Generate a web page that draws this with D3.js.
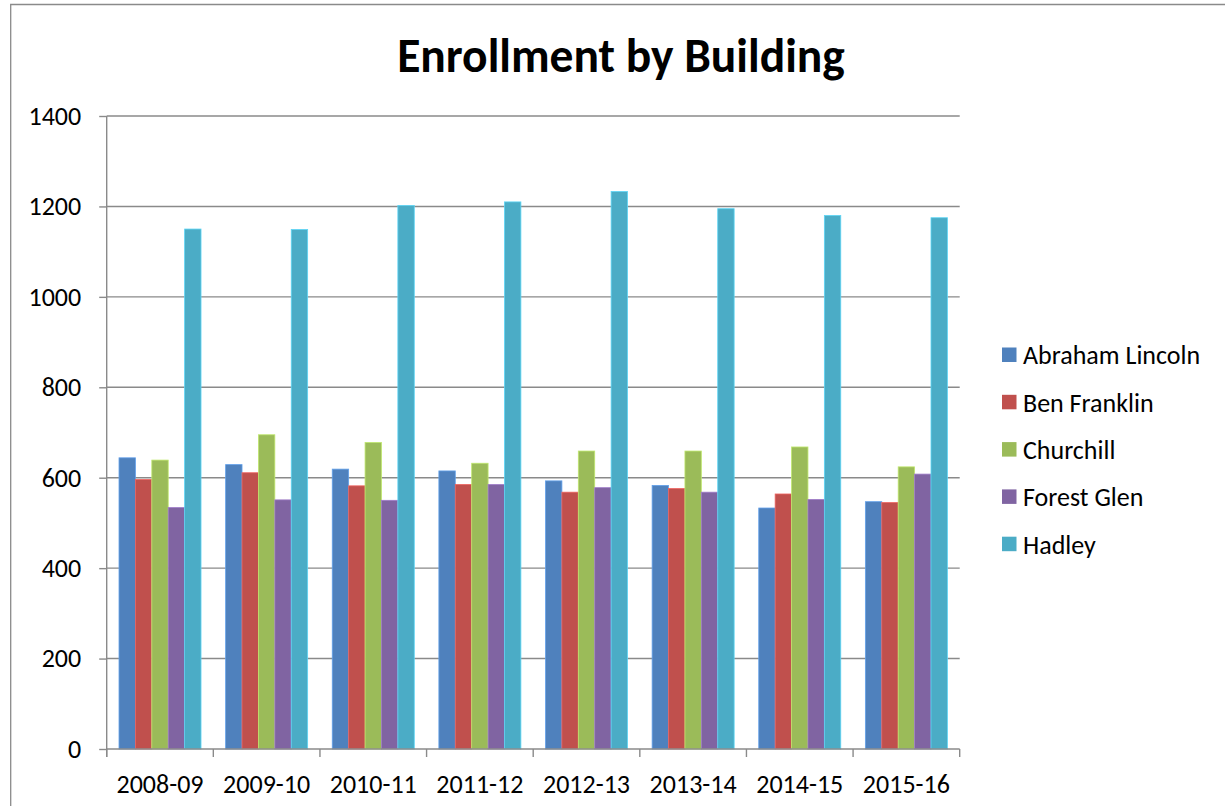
<!DOCTYPE html>
<html>
<head>
<meta charset="utf-8">
<script src="https://cdn.jsdelivr.net/npm/d3@7/dist/d3.min.js"></script>
<style>
  html, body { margin: 0; padding: 0; background: #fff; }
  svg { display: block; }
  text { font-family: Calibri, Carlito, Lato, sans-serif; fill: #000; }
</style>
</head>
<body>
<svg id="chart" width="1225" height="809"></svg>
<script>
// School years on the x axis
const years = ["2008-09", "2009-10", "2010-11", "2011-12", "2012-13", "2013-14", "2014-15", "2015-16"];
// Buildings (one bar series each)
const buildings = ["Abraham Lincoln", "Ben Franklin", "Churchill", "Forest Glen", "Hadley"];
// Enrollment per building, one value per school year
const abrahamLincoln = [644, 629, 619, 615, 593, 583, 533, 547];
const benFranklin    = [596, 611, 582, 585, 568, 576, 564, 545];
const churchill      = [639, 695, 678, 632, 659, 659, 668, 624];
const forestGlen     = [534, 551, 550, 585, 578, 568, 552, 608];
const hadley         = [1150, 1149, 1202, 1210, 1233, 1195, 1180, 1175];
// Value-axis ticks
const yTicks = [0, 200, 400, 600, 800, 1000, 1200, 1400];
const colors = ["#4F81BD", "#C0504D", "#9BBB59", "#8064A2", "#4BACC6"];

const series = [abrahamLincoln, benFranklin, churchill, forestGlen, hadley];

const svg = d3.select("#chart");
const plot = { left: 106.7, right: 959.7, top: 116, bottom: 749 };
const fontFam = "Calibri, Carlito, Lato, sans-serif";
const labelSize = 26;

// Outer chart frame (top and left edges visible)
svg.append("path")
  .attr("d", `M10.7,806 V4.5 H1225`)
  .attr("fill", "none")
  .attr("stroke", "#8a8a8a")
  .attr("stroke-width", 1.3);

const x0 = d3.scaleBand().domain(years).range([plot.left, plot.right]);
// Gap width 150% of one bar: 5 bars + 1.5 bar widths of gap per category
const groupW = x0.bandwidth() * 5 / 6.5;
const groupOff = (x0.bandwidth() - groupW) / 2;
const x1 = d3.scaleBand().domain(buildings).range([groupOff, groupOff + groupW]);

const y = d3.scaleLinear().domain([0, 1400]).range([plot.bottom, plot.top]);

// Horizontal gridlines
svg.append("g")
  .selectAll("line")
  .data(yTicks.filter(d => d > 0))
  .join("line")
  .attr("x1", plot.left).attr("x2", plot.right)
  .attr("y1", d => y(d)).attr("y2", d => y(d))
  .attr("stroke", "#8a8a8a").attr("stroke-width", 1.4);

// Y axis
const yAxis = d3.axisLeft(y).tickValues(yTicks).tickFormat(d3.format("d"))
  .tickSize(7.5).tickPadding(18).tickSizeOuter(0);
const gy = svg.append("g").attr("transform", `translate(${plot.left},0)`).call(yAxis);
gy.select(".domain").attr("stroke", "#8a8a8a").attr("stroke-width", 1.4)
  .attr("d", `M0,${plot.top}V${plot.bottom + 8}`);
gy.selectAll(".tick line").attr("stroke", "#8a8a8a").attr("stroke-width", 1.4);
gy.selectAll(".tick text").attr("font-size", labelSize).attr("font-family", fontFam).attr("fill", "#000");

// Bars
const groups = svg.append("g")
  .selectAll("g")
  .data(years)
  .join("g")
  .attr("transform", d => `translate(${x0(d)},0)`);

groups.selectAll("rect")
  .data((yr, i) => buildings.map((b, s) => ({ b, s, v: series[s][i] })))
  .join("rect")
  .attr("x", d => x1(d.b))
  .attr("width", x1.bandwidth())
  .attr("y", d => y(d.v))
  .attr("height", d => y(0) - y(d.v))
  .attr("fill", d => colors[d.s])
  .attr("stroke", d => d3.color(colors[d.s]).brighter(0.6))
  .attr("stroke-width", 0.8);

// X axis
const xAxis = d3.axisBottom(x0).tickSize(0).tickPadding(25.5);
const gx = svg.append("g").attr("transform", `translate(0,${plot.bottom})`).call(xAxis);
gx.select(".domain").attr("stroke", "#8a8a8a").attr("stroke-width", 1.4)
  .attr("d", `M${plot.left},0H${plot.right}`);
gx.selectAll(".tick text").attr("font-size", labelSize).attr("font-family", fontFam).attr("fill", "#000");
// Category boundary tick marks
svg.append("g")
  .selectAll("line")
  .data(years.map(d => x0(d)).concat([plot.right]))
  .join("line")
  .attr("x1", d => d).attr("x2", d => d)
  .attr("y1", plot.bottom).attr("y2", plot.bottom + 8)
  .attr("stroke", "#8a8a8a").attr("stroke-width", 1.4);

// Title
svg.append("text")
  .attr("x", 621).attr("y", 72)
  .attr("text-anchor", "middle")
  .attr("font-size", 47.5)
  .attr("font-weight", "bold")
  .text("Enrollment by Building");

// Legend
const legend = svg.append("g")
  .selectAll("g")
  .data(buildings)
  .join("g")
  .attr("transform", (d, i) => `translate(1002,${355 + i * 47.3})`);
legend.append("rect")
  .attr("x", 0).attr("y", -7.5).attr("width", 14.5).attr("height", 14.5)
  .attr("fill", (d, i) => colors[i]);
legend.append("text")
  .attr("x", 21).attr("y", 0).attr("dy", "0.36em")
  .attr("font-size", labelSize)
  .text(d => d);
</script>
</body>
</html>
